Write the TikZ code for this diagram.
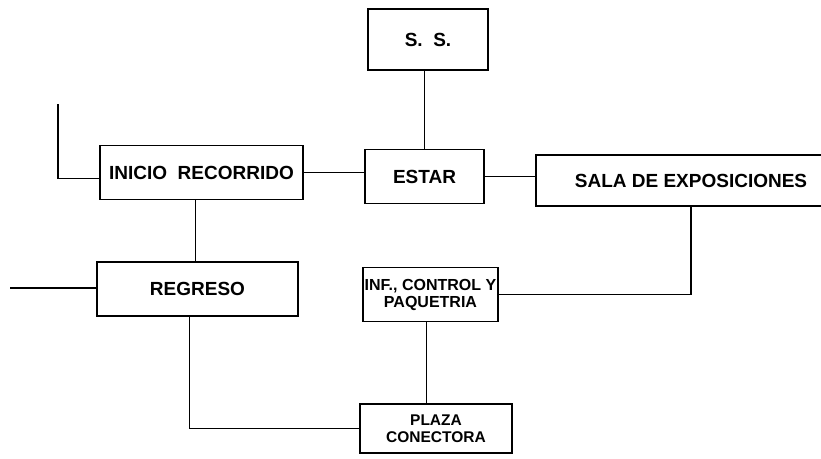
\documentclass[tikz,border=0pt]{standalone}
\usepackage{fontspec}
\setmainfont{Liberation Sans}
\usepackage{tikz}
\usetikzlibrary{positioning,calc}
\newcommand{\bigtxt}{\fontsize{19}{21}\selectfont\bfseries}
\newcommand{\smalltxt}{\fontsize{16}{17}\selectfont\bfseries}

\begin{document}
\begin{tikzpicture}[x=1pt, y=-1pt,
  area/.style={draw=black, line width=1.8pt, fill=white, align=center,
               minimum height=54pt, inner sep=0pt, minimum width=#1, font=\bigtxt},
  area/.default=120pt,
  link/.style={black, line width=1.8pt}]
\useasboundingbox (0,0) rectangle (821,458);
\node[area, minimum height=61pt] (ss)   at (428, 39.5)  {S.\ \ S.};
\node[area=119pt]  (estar)   at (424.5, 176.5) {ESTAR};
\node[area=203pt]  (inicio)  at (201.5, 172.5) {INICIO\ \ RECORRIDO};
\node[area=201pt]  (regreso) at (197.5, 289)   {REGRESO};
\node[area=135pt, font=\smalltxt] (info) at (430.5, 294.5) {INF., CONTROL Y\\PAQUETRIA};
\node[area=152pt, minimum height=49pt, font=\fontsize{15.5}{17}\selectfont\bfseries] (plaza) at (436, 428.5) {PLAZA\\CONECTORA};
\node[area=310pt, minimum height=51pt] (sala) at (691, 180.5) {SALA DE EXPOSICIONES};
\coordinate (entry) at (58, 104);
\coordinate (exit)  at (10, 288);
% connections
\draw[link] (estar.north) -- (estar.north |- ss.south);
\draw[link] (inicio.east) -- (inicio.east -| estar.west);
\draw[link] (estar.east) -- (estar.east -| sala.west);
\draw[link] ([xshift=-6pt]inicio.south) -- ([xshift=-6pt]inicio.south |- regreso.north);
\draw[link] ([xshift=-8pt]regreso.south) |- (plaza.west);
\draw[link] ([xshift=-4pt]info.south) -- ([xshift=-4pt]info.south |- plaza.north);
\draw[link] (info.east) -| (sala.south);
\draw[link] (entry) |- ([yshift=-6pt]inicio.west);
\draw[link] (exit) -- (exit -| regreso.west);
\end{tikzpicture}
\end{document}
